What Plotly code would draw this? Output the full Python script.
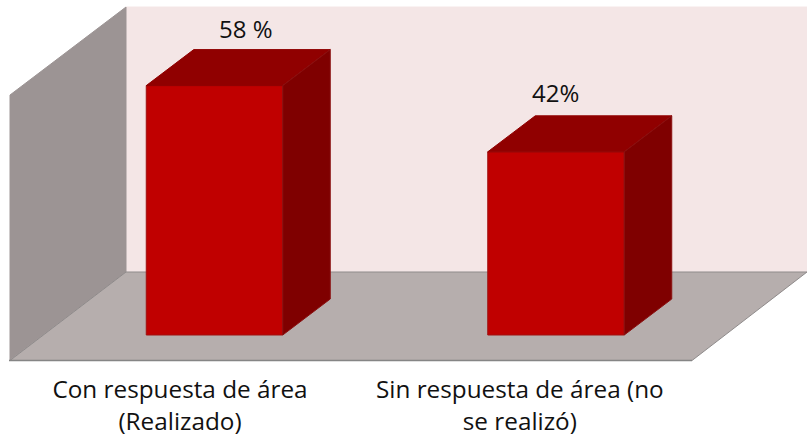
import plotly.graph_objects as go

categories = ["Con respuesta de área<br>(Realizado)", "Sin respuesta de área (no<br>se realizó)"]
values = [58, 42.6]
labels = ["58 %", "42%"]
label_shift = [31, -1]
label_lift = [3, 5]
tick_positions = [-0.101, 0.894]

W, H, B = 807, 437, 74
PX_X = 341.5          # pixels per category step
PX_Y = 4.3            # pixels per value unit
X0_PX, Y0_PX = 214.5, 335
BAR_W = 136.5 / PX_X
DX, DY = 47.5 / PX_X, 36 / PX_Y   # bar depth
X_RANGE = [-X0_PX / PX_X, (W - X0_PX) / PX_X]
Y_RANGE = [(Y0_PX - (H - B)) / PX_Y, Y0_PX / PX_Y]

def xd(px): return (px - X0_PX) / PX_X
def yd(py): return (Y0_PX - py) / PX_Y

def poly(pts, fill, line=None):
    path = "M " + " L ".join(f"{xd(a)},{yd(b)}" for a, b in pts) + " Z"
    return dict(type="path", path=path, xref="x", yref="y", fillcolor=fill, layer="below",
                line=dict(color=line or fill, width=1))

shapes = [
    poly([(126, 7), (807, 7), (807, 272), (126, 272)], "#f4e6e6"),
    poly([(10, 95), (126, 7), (126, 272), (10, 360)], "#9c9494", "#9c9494"),
    poly([(10, 360.5), (126, 272), (807, 272), (692, 360.5)], "#b6aead", "#8f8b8b"),
    dict(type="line", xref="x", yref="y", x0=xd(9), x1=xd(692), y0=yd(360.5), y1=yd(360.5),
         line=dict(color="#858585", width=1.6), layer="below"),
]

fig = go.Figure()
fig.add_trace(go.Bar(x=[0, 1], y=values, width=BAR_W, marker=dict(color="#c00000", line=dict(color="#a01010", width=1)),
                     hoverinfo="skip"))
for i, v in enumerate(values):
    l, r = i - BAR_W / 2, i + BAR_W / 2
    fig.add_trace(go.Scatter(x=[l, r, r + DX, l + DX, l], y=[v, v, v + DY, v + DY, v], mode="lines",
                             fill="toself", fillcolor="#900000", line=dict(color="#900000", width=1), hoverinfo="skip"))
    fig.add_trace(go.Scatter(x=[r, r + DX, r + DX, r, r], y=[0, DY, v + DY, v, 0], mode="lines",
                             fill="toself", fillcolor="#7f0000", line=dict(color="#8a1010", width=1), hoverinfo="skip"))

annotations = [
    dict(x=i, y=values[i] + DY, xref="x", yref="y", text=labels[i], showarrow=False, xshift=label_shift[i],
         yanchor="bottom", yshift=label_lift[i], font=dict(size=24, color="#111111"))
    for i in range(2)
]

fig.update_layout(
    width=W, height=H, margin=dict(l=0, r=0, t=0, b=B), showlegend=False,
    paper_bgcolor="white", plot_bgcolor="white", shapes=shapes, annotations=annotations,
    font=dict(family="Open Sans, Liberation Sans, sans-serif", size=24, color="#111111"),
    xaxis=dict(range=X_RANGE, tickmode="array", tickvals=tick_positions, ticktext=categories, showgrid=False,
               zeroline=False, showline=False, ticks="outside", ticklen=5, tickcolor="rgba(0,0,0,0)",
               tickfont=dict(size=24.3, color="#111111"), fixedrange=True, automargin=False),
    yaxis=dict(range=Y_RANGE, visible=False, showgrid=False, zeroline=False, fixedrange=True, automargin=False),
)
fig.write_html("out.html", post_script="document.body.style.margin='0';", config=dict(displayModeBar=False))
